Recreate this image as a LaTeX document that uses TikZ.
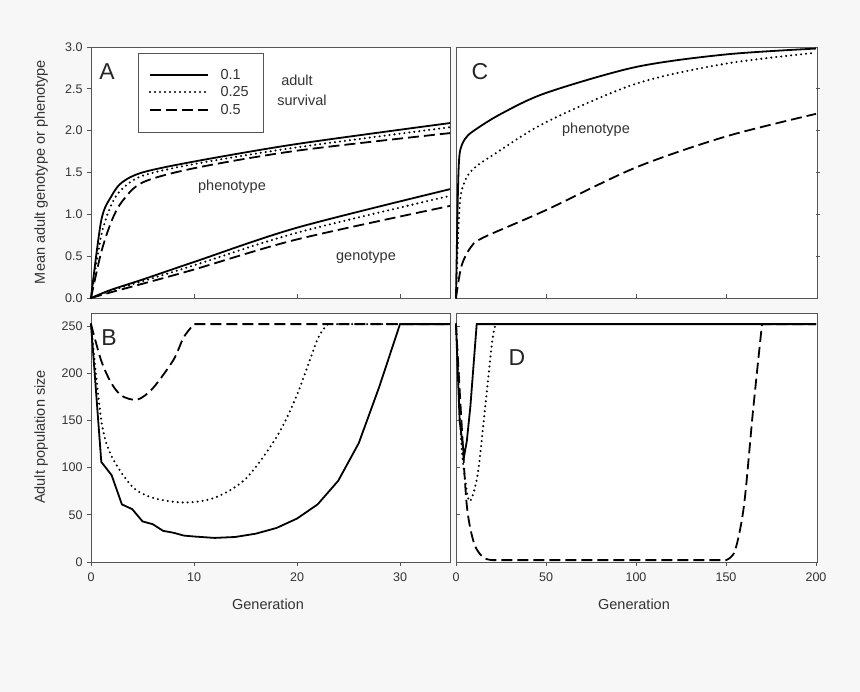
\documentclass[tikz,border=0pt]{standalone}
\usepackage{fontspec}
\setmainfont{Liberation Sans}
\definecolor{bggray}{HTML}{F7F7F7}
\definecolor{framegray}{HTML}{555555}
\tikzset{
  frame/.style={draw=framegray, fill=white, line width=0.8pt},
  sol/.style={line width=1.8pt, black},
  dot/.style={line width=2.3pt, black, line cap=round, dash pattern=on 0pt off 5pt},
  dsh/.style={line width=1.8pt, black, dash pattern=on 11pt off 5pt},
  tick/.style={framegray, line width=0.6pt},
  ticklab/.style={font=\fontsize{12.5}{14}\selectfont, text=black!80},
  axlab/.style={font=\fontsize{14.5}{16}\selectfont, text=black!80},
  panlab/.style={font=\fontsize{23}{25}\selectfont, text=black!85},
}
\begin{document}
\begin{tikzpicture}[x=1pt,y=1pt]
\fill[bggray] (0,0) rectangle (860,692);
\useasboundingbox (0,0) rectangle (860,692);

% panel frames
\draw[frame] (91,394) rectangle (450,645);
\draw[frame] (456,394) rectangle (817,645);
\draw[frame] (91,130) rectangle (450,379);
\draw[frame] (456,130) rectangle (817,379);

% panel A
\begin{scope}[shift={(91,394)}, x=10.3pt, y=83.7pt]
  \foreach \v in {0.0,0.5,1.0,1.5,2.0,2.5,3.0} {
    \draw[tick] (0,\v) -- ++(-4pt,0);
    \node[ticklab, anchor=east] at ([xshift=-5pt]0,\v) {\v};
  }
  \foreach \g in {10,20,30} \draw[tick] (\g,0) -- ++(0,4pt);
  \draw[sol] plot[smooth, tension=0.5] coordinates {(0,0) (1,0.93) (2,1.22) (3,1.38) (5,1.5) (10,1.63) (20,1.84) (34.85,2.09)};
  \draw[dot] plot[smooth, tension=0.5] coordinates {(0,0) (1,0.75) (2,1.12) (3,1.3) (5,1.46) (10,1.6) (20,1.8) (34.85,2.04)};
  \draw[dsh] plot[smooth, tension=0.5] coordinates {(0,0) (1,0.55) (2,0.92) (3,1.15) (5,1.38) (10,1.55) (20,1.76) (34.85,1.97)};
  \draw[sol] plot[smooth, tension=0.5] coordinates {(0,0) (2,0.1) (5,0.22) (10,0.43) (20,0.84) (34.85,1.3)};
  \draw[dot] plot[smooth, tension=0.5] coordinates {(0,0) (2,0.09) (5,0.2) (10,0.39) (20,0.78) (34.85,1.22)};
  \draw[dsh] plot[smooth, tension=0.5] coordinates {(0,0) (2,0.07) (5,0.17) (10,0.34) (20,0.7) (34.85,1.1)};
\end{scope}
\node[panlab] (labA) at (107,620) {A};
\node[axlab] (phenA) at (232,505) {phenotype};
\node[axlab] (genoA) at (366,435) {genotype};

% legend
\node[draw=framegray, line width=0.7pt, minimum width=125pt, minimum height=79pt, inner sep=0pt] (legend) at (200.5,599.5) {};
\draw[sol] (150,617) -- (208,617);
\draw[dot] (150,600) -- (208,600);
\draw[dsh] (150,582) -- (208,582);
\node[axlab, anchor=west] (l1) at (217,617) {0.1};
\node[axlab, anchor=west] (l2) at (217,600) {0.25};
\node[axlab, anchor=west] (l3) at (217,582) {0.5};
\node[axlab] (adult) at (297,612) {adult};
\node[axlab] (surv) at (302,592) {survival};

% panel C
\begin{scope}[shift={(456,394)}, x=1.8pt, y=83.7pt]
  \foreach \v in {0.5,1.0,1.5,2.0,2.5} \draw[tick] (200,\v) -- ++(4pt,0);
  \foreach \g in {50,100,150} \draw[tick] (\g,0) -- ++(0,4pt);
  \draw[sol] plot[smooth, tension=0.5] coordinates {(0,0) (1,1.2) (2,1.72) (5,1.9) (10,2.0) (25,2.2) (50,2.45) (100,2.76) (150,2.91) (200,2.98)};
  \draw[dot] plot[smooth, tension=0.5] coordinates {(0,0) (2,1.1) (5,1.4) (10,1.55) (20,1.7) (50,2.1) (100,2.56) (150,2.8) (200,2.93)};
  \draw[dsh] plot[smooth, tension=0.5] coordinates {(0,0) (3,0.38) (8,0.6) (15,0.72) (50,1.05) (100,1.56) (150,1.93) (200,2.2)};
\end{scope}
\node[panlab] (labC) at (480,620) {C};
\node[axlab] (phenC) at (596,562) {phenotype};

% panel B
\begin{scope}[shift={(91,130)}, x=10.3pt, y=0.944pt]
  \foreach \v in {0,50,...,250} {
    \draw[tick] (0,\v) -- ++(-4pt,0);
    \node[ticklab, anchor=east] at ([xshift=-5pt]0,\v) {\v};
  }
  \foreach \g in {0,10,20,30} {
    \draw[tick] (\g,0) -- ++(0,-4pt);
    \node[ticklab, anchor=north] at ([yshift=-7pt]\g,0) {\g};
  }
  \draw[sol] plot coordinates {(0,252) (1,106) (2,92) (3,61) (4,56) (5,43) (6,40) (7,33) (8,31) (9,28) (10,27) (12,25.5) (14,26.5) (16,30) (18,36) (20,46) (22,61) (24,86) (26,126) (28,186) (30,252) (34.85,252)};
  \draw[dot] plot[smooth, tension=0.5] coordinates {(0,252) (1,150) (2,112) (4,80) (6,68) (9,63) (12,68) (15,88) (18,132) (20,177) (22,236) (23,252)} -- (34.85,252);
  \draw[dsh] plot[smooth, tension=0.5] coordinates {(0,252) (1,213) (2,189) (3,176) (4.5,172) (6,184) (8,214) (9,238) (10,252)} -- (34.85,252);
\end{scope}
\node[panlab] (labB) at (109,354) {B};
\node[axlab] (genB) at (268,88) {Generation};

% panel D
\begin{scope}[shift={(456,130)}, x=1.8pt, y=0.944pt]
  \foreach \v in {50,100,...,250} \draw[tick] (0,\v) -- ++(4pt,0);
  \foreach \g in {0,50,...,200} {
    \draw[tick] (\g,0) -- ++(0,-4pt);
    \node[ticklab, anchor=north] at ([yshift=-7pt]\g,0) {\g};
  }
  \draw[sol] plot coordinates {(0,252) (2,150) (4.5,112) (6,128) (8,165) (11.5,252) (200,252)};
  \draw[dot] plot[smooth, tension=0.5] coordinates {(0,252) (3,125) (6,75) (8,65) (12,92) (16,160) (20,232) (22,252)};
  \draw[dsh] plot[smooth, tension=0.5] coordinates {(0,252) (3,150) (6,60) (10,20) (15,5) (20,2)} -- (150,2)
    plot[smooth, tension=0.5] coordinates {(150,2) (155,12) (160,60) (165,160) (170,252)} -- (200,252);
\end{scope}
\node[panlab] (labD) at (517,334) {D};
\node[axlab] (genD) at (634,88) {Generation};

% axis titles
\node[axlab, rotate=90] (ytop) at (41,520) {Mean adult genotype or phenotype};
\node[axlab, rotate=90] (ybot) at (41,255) {Adult population size};
\end{tikzpicture}
\end{document}
